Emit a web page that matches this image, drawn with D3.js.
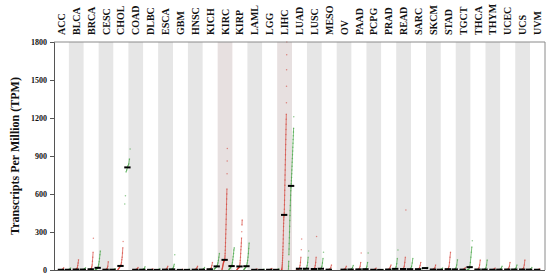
<!DOCTYPE html>
<html><head><meta charset="utf-8">
<script src="https://cdn.jsdelivr.net/npm/d3@7"></script>
<style>body{margin:0;background:#fff}svg{display:block}</style>
</head><body>
<svg id="c" width="550" height="278"></svg>
<script>
const categories = ["ACC","BLCA","BRCA","CESC","CHOL","COAD","DLBC","ESCA","GBM","HNSC","KICH","KIRC","KIRP","LAML","LGG","LIHC","LUAD","LUSC","MESO","OV","PAAD","PCPG","PRAD","READ","SARC","SKCM","STAD","TGCT","THCA","THYM","UCEC","UCS","UVM"];
const yTicks = [0,300,600,900,1200,1500,1800];
const highlighted = ["KIRC","LIHC"];
// tumor samples (TPM), per category in order
const tumorValues = [
 [0,0,0.5,1,1,1.5,2,2,3,4,6,10,18],
 [0,0.5,1,1,2,2,3,4,5,8,12,20,35,55,80],
 [0,0.5,1,1,2,2,3,4,5,7,10,15,25,40,70,100,140,250],
 [0,0,0.5,1,1,2,3,5,8,15,30,65],
 [2,5,8,12,16,20,24,28,32,38,45,60,80,100,135,175,225],
 [0,0.5,1,1,2,2,3,5,8,12,20],
 [0,0.5,1,1,2,3,5,8],
 [0,0.5,1,1,2,3,4,6,10,18,30],
 [0,0,0.5,1,1,2,3,5],
 [0,0.5,1,1,2,2,3,5,8,12,20,30],
 [0,1,2,3,4,6,8,12,20,35,60],
 [2,5,9,14,19,24,29,34,39,44,49,54,58,62,65,68,71,73,75,77,79,80,85,95,110,130,155,185,215,250,285,320,360,400,440,480,520,560,600,640,760,860,960],
 [2,4,6,8,10,12,14,16,17,18,20,22,26,30,40,55,75,100,130,160,185,213,252,302,355,395],
 [0,0.5,1,1,2,3,5,8],
 [0,0.5,1,1,2,3,5,8,12],
 [0,1,3,6,10,16,24,34,46,60,76,94,114,136,160,186,214,244,276,310,344,370,395,413,425,432,435,450,480,515,550,590,630,670,710,750,790,830,870,910,950,990,1030,1070,1110,1150,1190,1230,1320,1450,1580,1700,1800],
 [0,0.5,1,2,3,5,8,12,20,35,60,100,160,245],
 [0,0.5,1,2,3,5,8,12,20,35,60,100,265],
 [0,0.5,1,2,3,5,10,20,40],
 [0,0.5,1,2,3,5,8,15,30],
 [0,0.5,1,2,3,5,8,15,30,60,134],
 [0,0.5,1,1,2,3,5,8,15],
 [0,0.5,1,2,3,5,8,15,25,40],
 [0,1,2,3,5,8,15,30,60,100,474],
 [0,1,2,3,5,8,12,20,35,60],
 [0,0.5,1,2,3,5,8,12,20,40],
 [0,0.5,1,2,3,5,8,15,30,60,100,140],
 [0,0.5,1,2,3,5,8,12,20],
 [0,0.5,1,2,3,5,10,20,40,79],
 [0,0.5,1,2,3,5,8,15],
 [0,0.5,1,2,3,5,8,15,30,60],
 [0,0.5,1,2,3,5,10,20,40,79],
 [0,0.5,1,2,3,5,8]
];
// normal samples (TPM), per category in order
const normalValues = [
 [0,0,0.5,1,1,2,2,3,4,6,10,15],
 [0,1,2,3,4,6,10,18],
 [0,2,4,6,8,10,14,20,30,45,65,90,120,150],
 [0,1,2,3,5,10],
 [521,586,774,790,810,825,837,877,955],
 [0,0.5,1,1,2,3,5,8,12,25],
 [0,0,0.5,1,1,2,3,5,10],
 [0,0.5,1,2,3,4,6,10,18,30,45,120],
 [0,0,0.5,1,1,2,3,4,6],
 [0,1,2,3,5,10,20],
 [5,8,12,16,20,25,32,40,55,75,100,130],
 [3,6,10,14,18,22,25,28,34,45,60,80,105,130,158,175],
 [3,6,10,14,18,21,24,30,40,55,75,100,130,170,213],
 [0,0.5,1,1,2,3,5],
 [0,0.5,1,1,2,3,5,8],
 [5,30,70,120,165,210,255,300,345,390,430,470,510,550,590,625,650,664,680,705,730,760,790,820,850,880,910,940,970,1000,1030,1060,1090,1120,1210],
 [0,1,2,3,5,8,12,20,35,60,100,150],
 [0,1,2,4,6,10,18,30,55,90,140],
 [],
 [0,1,2,3,5,10,20,35],
 [0,1,2,3,5,8,15,30,60,134],
 [0,1,2],
 [0,1,2,3,6,12,25,50,90,158],
 [0,1,2,3,5,8,15,30,55,90],
 [10,20],
 [0,0.5,1,2,3,5,8,15],
 [0,1,2,3,5,10,20,40,80],
 [0,1,2,4,8,15,30,60,100,140,182,230],
 [0,0.5,1,2,3,5,10,20,40,79],
 [0,0.5,1,2,3,5,8,15,30],
 [0,1,2,3,5,10,20,40],
 [0,1,2,3,5,10,20],
 []
];

const m = {left: 54, right: 545, top: 42, bottom: 270};
const svg = d3.select("#c");
const font = "'Liberation Serif','Times New Roman',serif";

const x = d3.scaleBand().domain(categories).range([m.left, m.right]).paddingInner(0).paddingOuter(0);
const y = d3.scaleLinear().domain([0, 1800]).range([m.bottom, m.top]);
const bw = x.bandwidth();
const dataShift = 3;

// background bands
svg.append("g").selectAll("rect").data(categories).join("rect")
  .attr("x", d => x(d)).attr("y", m.top).attr("width", bw).attr("height", m.bottom - m.top)
  .attr("fill", (d, i) => i % 2 ? "#e6e6e6" : "#ffffff");
svg.append("g").selectAll("rect").data(highlighted).join("rect")
  .attr("x", d => x(d)).attr("y", m.top).attr("width", bw).attr("height", m.bottom - m.top)
  .attr("fill", "#ff9090").attr("opacity", 0.06);

// data
const groups = [];
categories.forEach((c, i) => {
  groups.push({cat: c, vals: tumorValues[i].slice().sort(d3.ascending), side: 0, color: "#d2352a"});
  groups.push({cat: c, vals: normalValues[i].slice().sort(d3.ascending), side: 1, color: "#2f9a2f"});
});

const gapPx = 6;
const gData = svg.append("g");
groups.forEach(g => {
  const n = g.vals.length;
  if (!n) return;
  const x0 = x(g.cat) + dataShift + (g.side ? bw / 2 + 0.3 : 0.8);
  const x1 = x(g.cat) + dataShift + (g.side ? bw - 0.8 : bw / 2 - 0.3);
  const xr = d3.scaleLinear().domain([0, Math.max(1, n - 1)]).range([x0 + 0.5, x1 - 0.5]);
  const pts = g.vals.map((v, k) => [xr(k), y(v)]);
  // dense runs drawn as a continuous trace, sparse outliers as single dots
  const runs = [];
  let cur = [pts[0]];
  for (let k = 1; k < n; k++) {
    if (Math.abs(pts[k][1] - pts[k - 1][1]) <= gapPx) cur.push(pts[k]);
    else { runs.push(cur); cur = [pts[k]]; }
  }
  runs.push(cur);
  runs.filter(r => r.length > 1).forEach(r => {
    gData.append("path").attr("d", d3.line()(r)).attr("fill", "none")
      .attr("stroke", g.color).attr("stroke-width", 0.9).attr("opacity", 0.7);
  });
  gData.append("g").selectAll("circle").data(pts).join("circle")
    .attr("cx", p => p[0]).attr("cy", p => p[1]).attr("r", 0.75)
    .attr("fill", g.color).attr("opacity", 0.55);
  const med = d3.median(g.vals);
  gData.append("line").attr("x1", x0).attr("x2", x1).attr("y1", y(med)).attr("y2", y(med))
    .attr("stroke", "#000").attr("stroke-width", 2);
});

// frame
svg.append("path").attr("d", `M${m.left},${m.top}H${m.right}V${m.bottom}`)
  .attr("fill", "none").attr("stroke", "#8a8a8a").attr("stroke-width", 1);
svg.append("line").attr("x1", m.left).attr("x2", m.right).attr("y1", m.bottom + 0.5).attr("y2", m.bottom + 0.5)
  .attr("stroke", "#555").attr("stroke-width", 1);

// y axis
const ya = svg.append("g").attr("transform", `translate(${m.left},0)`)
  .call(d3.axisLeft(y).tickValues(yTicks).tickFormat(d3.format("d")).tickSize(4).tickPadding(3));
ya.select(".domain").attr("stroke", "#555");
ya.selectAll(".tick line").attr("stroke", "#555");
ya.selectAll("text").attr("font-family", font).attr("font-weight", "bold").attr("font-size", 8).attr("fill", "#111");

// category labels
svg.append("g").selectAll("text").data(categories).join("text")
  .attr("transform", d => `translate(${x(d) + bw / 2 + 3.5},35) rotate(-90)`)
  .attr("text-anchor", "start")
  .attr("font-family", font).attr("font-weight", "bold").attr("font-size", 10).attr("fill", "#111")
  .text(d => d);

// y title
svg.append("text").attr("transform", `translate(19,${(m.top + m.bottom) / 2}) rotate(-90)`)
  .attr("text-anchor", "middle").attr("font-family", font).attr("font-weight", "bold")
  .attr("font-size", 12).attr("fill", "#111").text("Transcripts Per Million (TPM)");
</script>
</body></html>
